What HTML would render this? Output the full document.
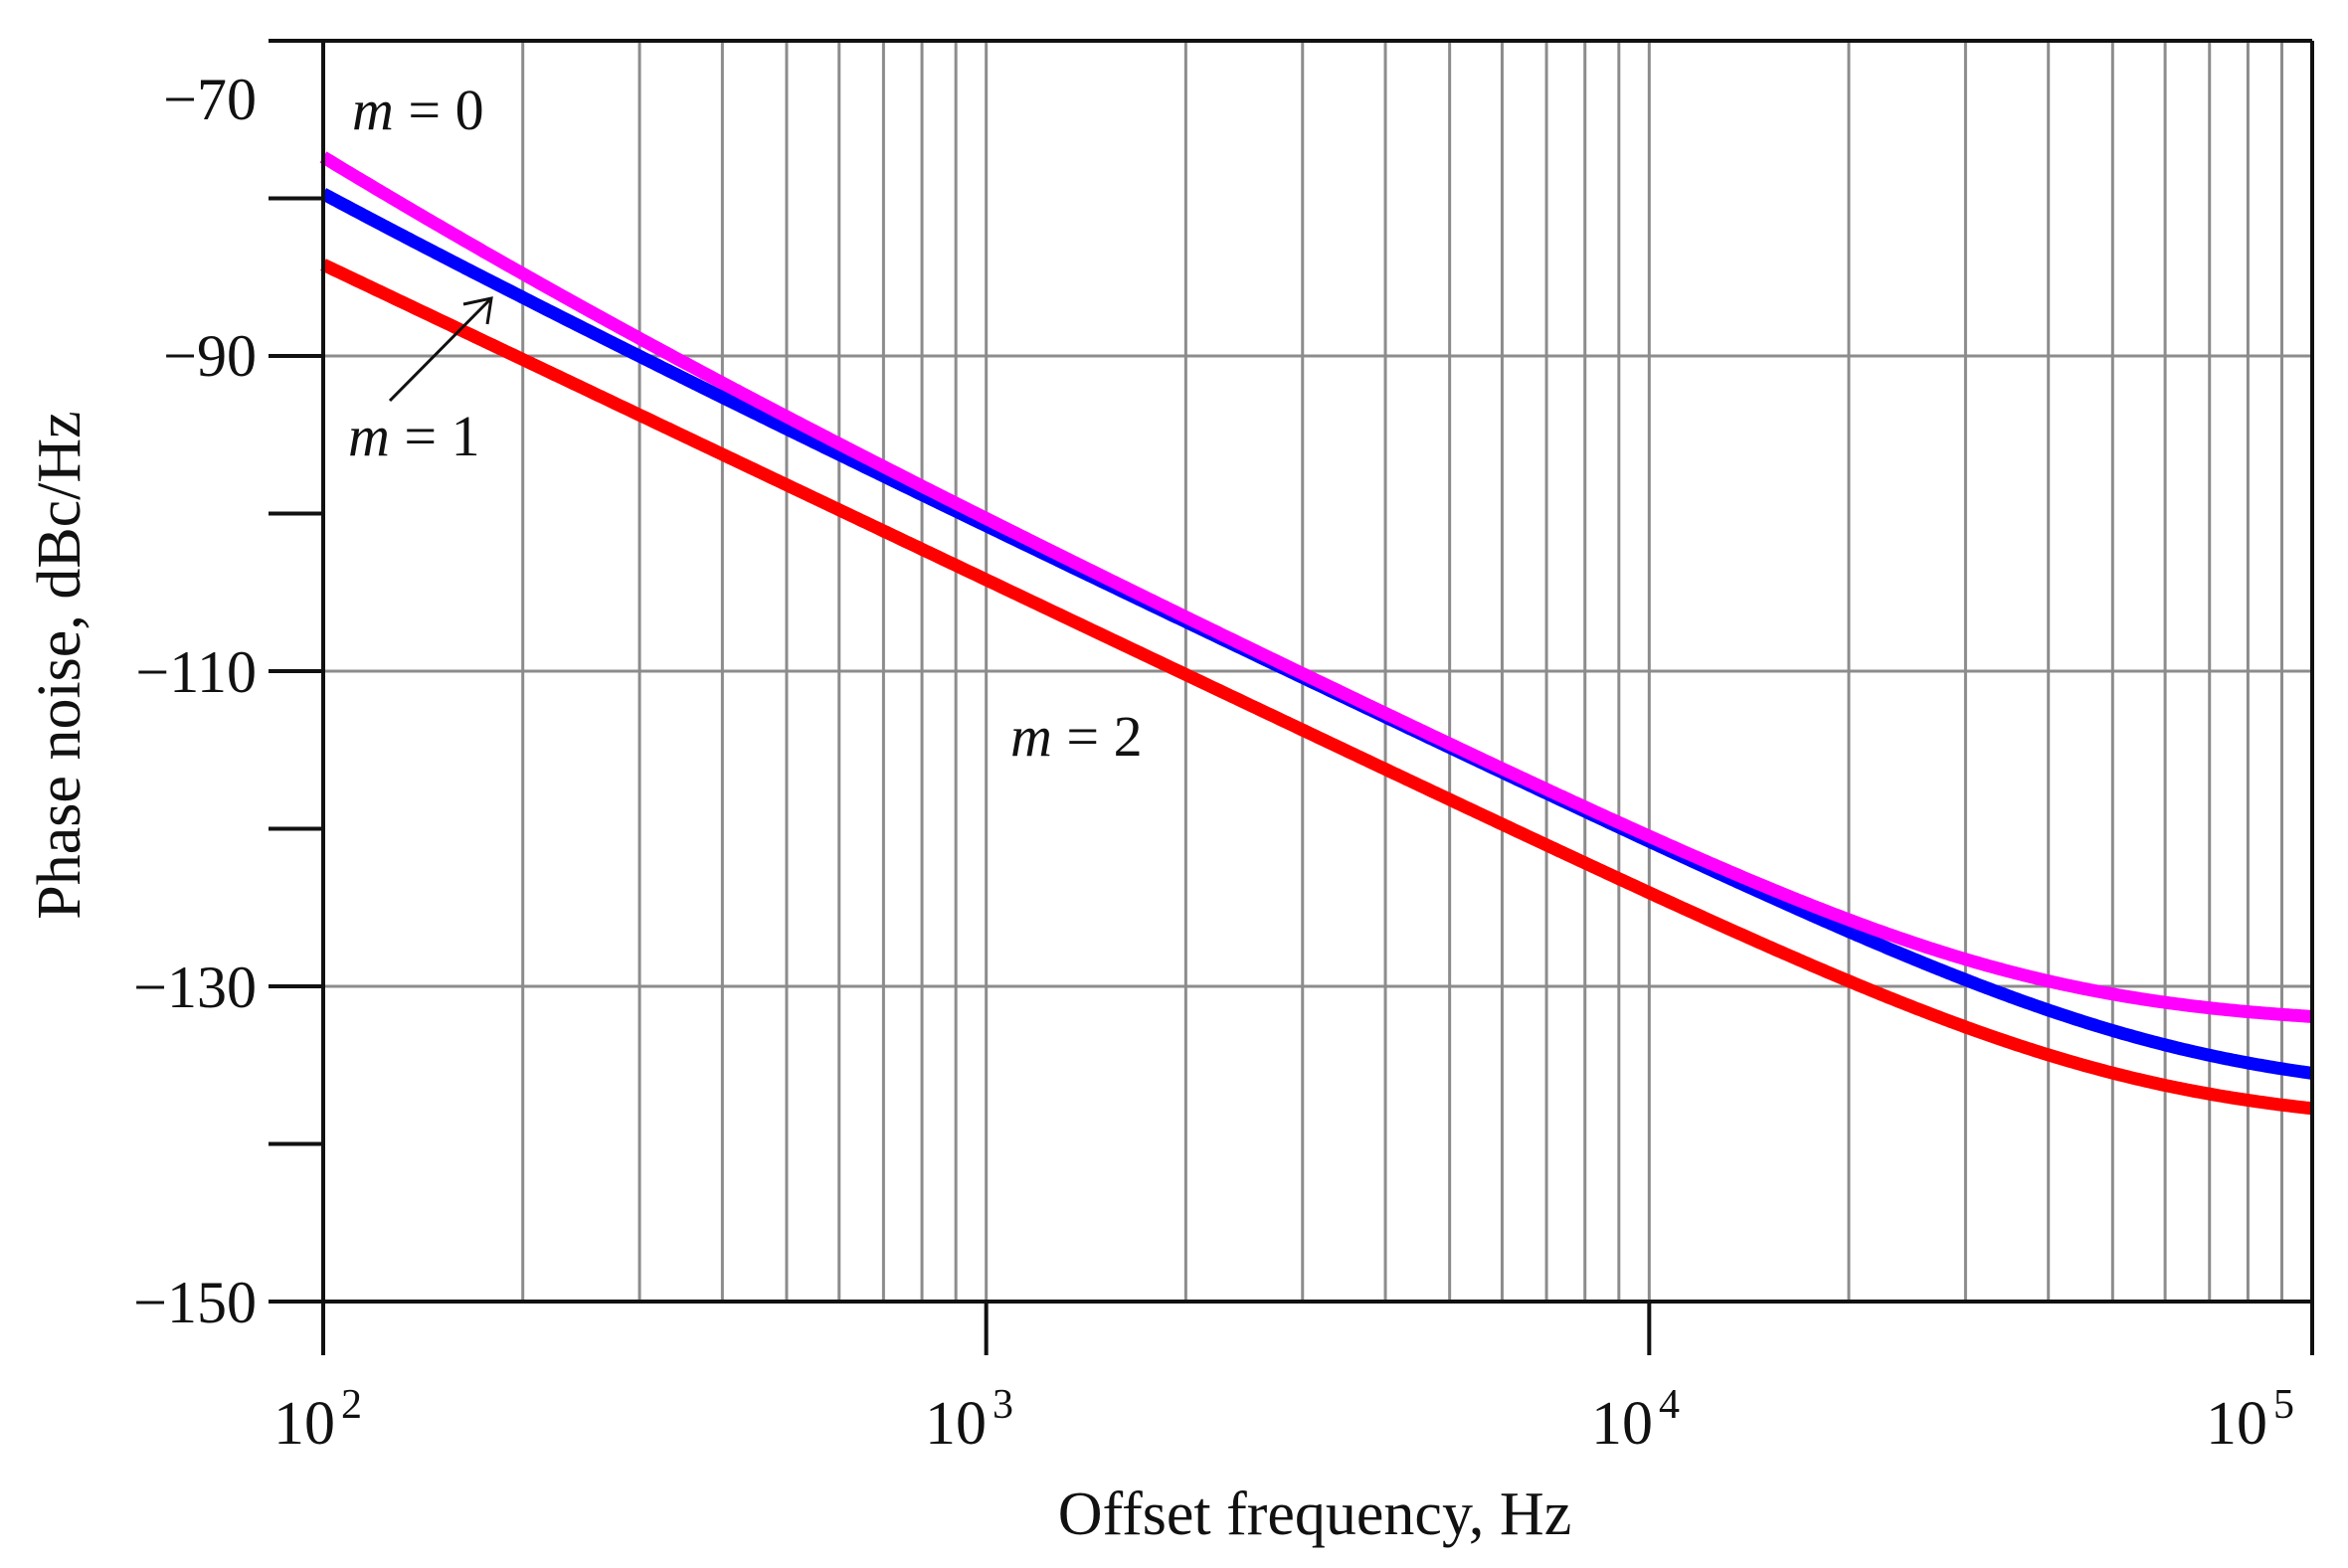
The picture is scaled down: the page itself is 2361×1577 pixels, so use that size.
<!DOCTYPE html>
<html><head><meta charset="utf-8"><style>
html,body{margin:0;padding:0;background:#fff;}
svg{display:block;}
text{font-family:"Liberation Serif",serif;fill:#111;}
</style></head><body>
<svg id="s" width="2361" height="1577" viewBox="0 0 2361 1577" xmlns="http://www.w3.org/2000/svg">
<g id="grid" stroke="#8c8c8c" stroke-width="3"></g>
<g id="curves" fill="none" stroke-width="13" stroke-linejoin="round"></g>
<g id="axes" stroke="#111" stroke-width="4" fill="none"></g>
<g font-size="60">
<text x="258" y="120" text-anchor="end">−70</text>
<text x="258" y="378" text-anchor="end">−90</text>
<text x="258" y="696" text-anchor="end">−110</text>
<text x="258" y="1013" text-anchor="end">−130</text>
<text x="258" y="1330" text-anchor="end">−150</text>
</g>
<g font-size="62">
<text x="275" y="1452">10<tspan font-size="42" dy="-26" dx="6">2</tspan></text>
<text x="930" y="1452">10<tspan font-size="42" dy="-26" dx="6">3</tspan></text>
<text x="1600" y="1452">10<tspan font-size="42" dy="-26" dx="6">4</tspan></text>
<text x="2218" y="1452">10<tspan font-size="42" dy="-26" dx="6">5</tspan></text>
</g>
<text x="1322" y="1543" font-size="62" text-anchor="middle">Offset frequency, Hz</text>
<text transform="translate(80,669) rotate(-90)" font-size="62" text-anchor="middle">Phase noise, dBc/Hz</text>
<g font-size="58">
<text x="354" y="130"><tspan font-style="italic">m</tspan> = 0</text>
<text x="350" y="458"><tspan font-style="italic">m</tspan> = 1</text>
<text x="1016" y="760"><tspan font-style="italic">m</tspan> = 2</text>
</g>
<line x1="392" y1="403" x2="492" y2="302" stroke="#111" stroke-width="3"/>
<polyline points="466,306 494,300 490,326" fill="none" stroke="#111" stroke-width="3"/>
</svg>
<script>
var L=325,R=2325,T=41,B=1309;
function X(f){return L+(Math.log10(f)-2)*(R-L)/3;}
function Y(d){return T+(-70-d)*(B-T)/80;}
var g=document.getElementById('grid'),a=document.getElementById('axes'),c=document.getElementById('curves');
var ns='http://www.w3.org/2000/svg';
function ln(p,x1,y1,x2,y2){var e=document.createElementNS(ns,'line');e.setAttribute('x1',x1);e.setAttribute('y1',y1);e.setAttribute('x2',x2);e.setAttribute('y2',y2);p.appendChild(e);}
for(var n=2;n<5;n++)for(var k=1;k<10;k++){var f=k*Math.pow(10,n);if(f>100&&f<1e5)ln(g,X(f),T,X(f),B);}
[-90,-110,-130].forEach(function(d){ln(g,L,Y(d),R,Y(d));});
ln(a,270,T,R,T);ln(a,270,B,R,B);ln(a,L,T,L,1363);ln(a,R,T,R,1363);
ln(a,X(1e3),B,X(1e3),1363);ln(a,X(1e4),B,X(1e4),1363);
[-80,-90,-100,-110,-120,-130,-140].forEach(function(d){ln(a,270,Y(d),L,Y(d));});
// models: A f^-3 + Bc f^-2 + C
var data=[
['#ff0000',0,3.8e-5,1.3e-14],
['#0000ff',2.6e-3,8.1e-5,2.0e-14],
['#ff00ff',1.0e-2,8.3e-5,5.6e-14]];
data.forEach(function(s){
 var pts=[];
 for(var i=0;i<=600;i++){var lx=2+3*i/600,f=Math.pow(10,lx);
  var p=s[1]/(f*f*f)+s[2]/(f*f)+s[3];var d=10*Math.log10(p);
  pts.push(X(f).toFixed(1)+','+Y(d).toFixed(1));}
 var e=document.createElementNS(ns,'polyline');e.setAttribute('points',pts.join(' '));e.setAttribute('stroke',s[0]);c.appendChild(e);
});
</script>
</body></html>
